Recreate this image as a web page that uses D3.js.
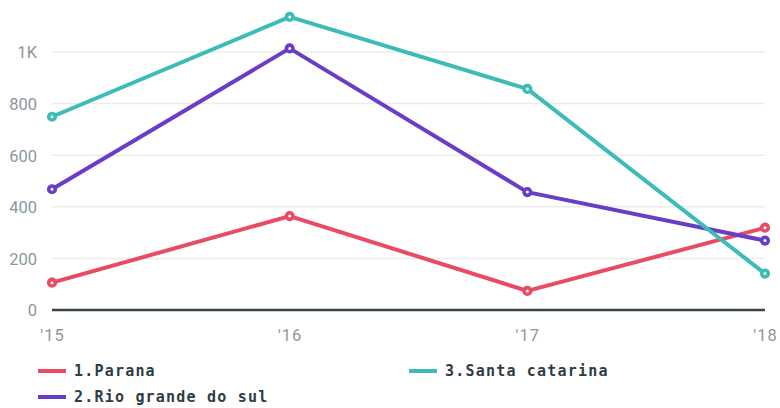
<!DOCTYPE html>
<html><head><meta charset="utf-8">
<script src="https://cdn.jsdelivr.net/npm/d3@7"></script>
<style>
html,body{margin:0;padding:0;background:#fff;}
svg{display:block;}
</style></head>
<body>
<svg id="c" width="780" height="408"></svg>
<script>
const categories = ["'15","'16","'17","'18"];
const seriesNames = ["1.Parana","2.Rio grande do sul","3.Santa catarina"];
const parana = [106, 364, 74, 319];
const rioGrande = [468, 1014, 457, 269];
const santaCatarina = [749, 1136, 857, 141];
const yTicks = [0, 200, 400, 600, 800, 1000];
const yTickLabels = ["0","200","400","600","800","1K"];
const colors = ["#ea4a63","#6a3dc8","#3dbbb8"];

const series = [parana, rioGrande, santaCatarina].map((v,i)=>({name:seriesNames[i], values:v, color:colors[i]}));

const svg = d3.select("#c");
const x = d3.scalePoint().domain(categories).range([52, 765]);
const y = d3.scaleLinear().domain([0, 1000]).range([310, 52]);

// grid
svg.append("g").selectAll("line").data(yTicks.filter(d=>d>0)).join("line")
  .attr("x1", 52).attr("x2", 765)
  .attr("y1", d=>y(d)).attr("y2", d=>y(d))
  .attr("stroke", "#ececec").attr("stroke-width", 1.5);

// y axis labels
const yAxis = d3.axisLeft(y).tickValues(yTicks).tickFormat((d,i)=>yTickLabels[i]).tickSize(0).tickPadding(0);
const yg = svg.append("g").attr("transform","translate(37,0)").call(yAxis);
yg.select(".domain").remove();
yg.selectAll("text").attr("fill","#8c979b").style("font-family","'Roboto', sans-serif").style("font-size","16.5px").attr("dy","0.36em");

// x axis labels
const xAxis = d3.axisBottom(x).tickSize(0).tickPadding(0);
const xg = svg.append("g").attr("transform","translate(0,329)").call(xAxis);
xg.select(".domain").remove();
xg.selectAll("text").attr("fill","#8c979b").style("font-family","'Roboto', sans-serif").style("font-size","16.5px").style("letter-spacing","1px").attr("dy","0.72em");

// zero line
svg.append("line").attr("x1",52).attr("x2",765).attr("y1",y(0)).attr("y2",y(0))
  .attr("stroke","#37454d").attr("stroke-width",2.5);

const line = d3.line().x((d,i)=>x(categories[i])).y(d=>y(d));
const g = svg.append("g");
series.forEach(s=>{
  g.append("path").datum(s.values).attr("d", line)
    .attr("fill","none").attr("stroke",s.color).attr("stroke-width",4)
    .attr("stroke-linejoin","round");
});
series.forEach(s=>{
  g.selectAll(null).data(s.values).join("circle")
    .attr("cx",(d,i)=>x(categories[i])).attr("cy",d=>y(d)).attr("r",3.3)
    .attr("fill","#fff").attr("stroke",s.color).attr("stroke-width",3.6);
});

// legend
const legendPos = [[38,371],[38,397],[409,371]];
const lg = svg.append("g");
series.forEach((s,i)=>{
  const [lx,ly] = legendPos[i];
  lg.append("line").attr("x1",lx).attr("x2",lx+28).attr("y1",ly).attr("y2",ly)
    .attr("stroke",s.color).attr("stroke-width",4);
  lg.append("text").attr("x",lx+36).attr("y",ly).attr("dy","0.35em")
    .attr("fill","#2e3c44").style("font-family","'DejaVu Sans Mono', monospace")
    .style("font-weight","bold").style("font-size","15px").style("letter-spacing","1.2px").text(s.name);
});
</script>
</body></html>
